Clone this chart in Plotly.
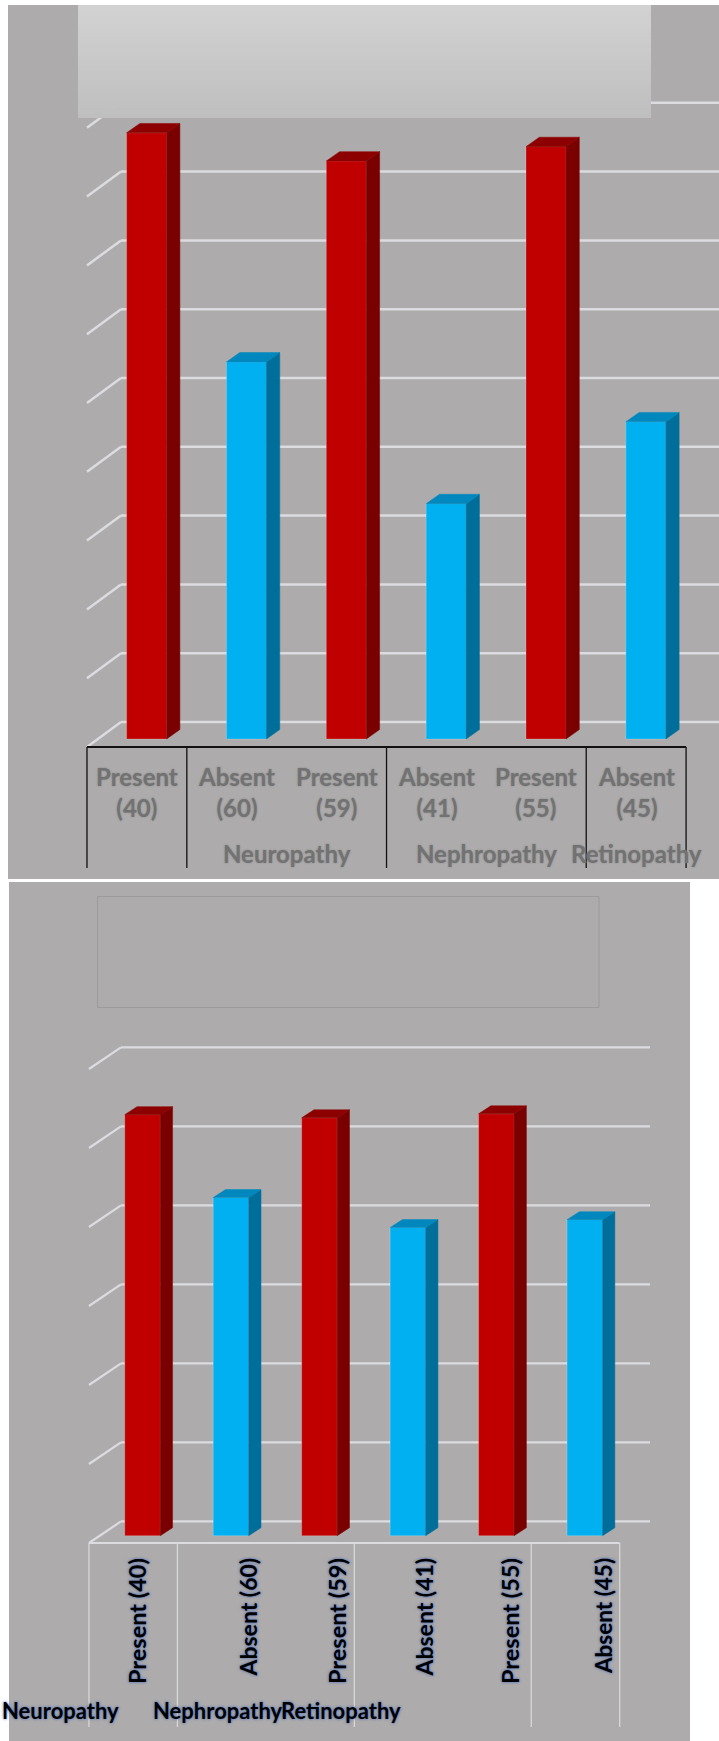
import plotly.graph_objects as go

# ---------------- data ----------------
categories = ["Present (40)", "Absent (60)", "Present (59)", "Absent (41)", "Present (55)", "Absent (45)"]
status = ["Present", "Absent", "Present", "Absent", "Present", "Absent"]
top_values = [88.1, 54.8, 84.0, 34.2, 86.1, 46.1]
bottom_values = [53.3, 42.8, 52.9, 39.0, 53.4, 40.0]
group_names = ["Neuropathy", "Nephropathy", "Retinopathy"]
group_spans = [(1, 3), (3, 5), (5, 6)]
dividers = [0, 1, 3, 5, 6]
top_grid = [0, 10, 20, 30, 40, 50, 60, 70, 80, 90]
bottom_grid = [0, 10, 20, 30, 40, 50, 60]

# ---------------- styling / layout constants ----------------
W, H = 719, 1741
FONT = "Lato, Carlito, Calibri, sans-serif"
BG = "#ADABAB"
GRID = "#DCDCE0"
FRONT = {"Present": "#C00000", "Absent": "#00B0F0"}
SIDE = {"Present": "#7A0000", "Absent": "#006E9A"}
TOPC = {"Present": "#8C0000", "Absent": "#0088BE"}

# pixel geometry of each chart (bar plane)
TOP = dict(cx0=146.6, cw=99.85, base=739.0, upx=6.88, front=(-9.7, 8.0), back=(24.3, -17.0),
           bw=40.0, depth=(13.3, -9.4), pix=(0, 880))
BOT = dict(cx0=142.5, cw=88.46, base=1535.7, upx=7.9, front=(-9.3, 7.3), back=(22.7, -14.3),
           bw=35.5, depth=(12.3, -8.0), pix=(880, 1741))

fig = go.Figure()
shapes = []
annotations = []


def px_x(g, px):
    return (px - g["cx0"]) / g["cw"]


def px_y(g, py):
    return (g["base"] - py) / g["upx"]


def odx(g, p):
    return p / g["cw"]


def ody(g, p):
    return -p / g["upx"]


def add_chart(g, values, xa, ya):
    w = g["bw"] / g["cw"]
    ddx, ddy = odx(g, g["depth"][0]), ody(g, g["depth"][1])
    cols = [FRONT[s] for s in status]
    fig.add_trace(go.Bar(x=list(range(len(values))), y=values, width=w,
                         marker=dict(color=cols, line=dict(width=0.8, color="rgba(255,255,255,0.25)")),
                         xaxis=xa, yaxis=ya, hoverinfo="skip", showlegend=False))
    for i, (v, s) in enumerate(zip(values, status)):
        xl, xr = i - w / 2, i + w / 2
        fig.add_trace(go.Scatter(x=[xr, xr, xr + ddx, xr + ddx, xr], y=[0, v, v + ddy, ddy, 0],
                                 fill="toself", fillcolor=SIDE[s], mode="lines",
                                 line=dict(width=0.5, color=SIDE[s]), xaxis=xa, yaxis=ya,
                                 hoverinfo="skip", showlegend=False))
        fig.add_trace(go.Scatter(x=[xl, xr, xr + ddx, xl + ddx, xl], y=[v, v, v + ddy, v + ddy, v],
                                 fill="toself", fillcolor=TOPC[s], mode="lines",
                                 line=dict(width=0.5, color=TOPC[s]), xaxis=xa, yaxis=ya,
                                 hoverinfo="skip", showlegend=False))


def grid_chart(g, gridvals, xa, ya, right_px, lw):
    fx, fy = odx(g, g["front"][0]), ody(g, g["front"][1])
    bx, by = odx(g, g["back"][0]), ody(g, g["back"][1])
    left = -0.5
    right_back = px_x(g, right_px)
    for V in gridvals:
        shapes.append(dict(type="line", xref=xa, yref=ya, layer="below",
                           x0=left + bx, y0=V + by, x1=right_back, y1=V + by,
                           line=dict(color=GRID, width=lw)))
        shapes.append(dict(type="line", xref=xa, yref=ya, layer="below",
                           x0=left + fx, y0=V + fy, x1=left + bx, y1=V + by,
                           line=dict(color=GRID, width=lw)))


def prect(x0, y0, x1, y1, **kw):
    d = dict(type="rect", xref="paper", yref="paper", x0=x0 / W, x1=x1 / W,
             y0=1 - y1 / H, y1=1 - y0 / H)
    d.update(kw)
    return d


# ---------- panels ----------
shapes.append(prect(8, 5, 719, 879, fillcolor=BG, line=dict(width=0), layer="below"))
shapes.append(prect(9, 882, 690, 1741, fillcolor=BG, line=dict(width=0), layer="below"))

n = len(categories)
TOPFONT = dict(family=FONT, size=24, color="#727272", weight="bold", shadow="0px 0px 2px #858585")
BOTFONT_SHADOW = "0px 0px 3px #3560c0"

# ---------- top chart ----------
add_chart(TOP, top_values, "x", "y")
grid_chart(TOP, top_grid, "x", "y", 719, 2.5)
g = TOP
fx, fy = odx(g, g["front"][0]), ody(g, g["front"][1])
shapes.append(dict(type="line", xref="x", yref="y", x0=-0.5 + fx, x1=n - 0.5 + fx, y0=fy, y1=fy,
                   line=dict(color="#111111", width=2)))
for d in dividers:
    shapes.append(dict(type="line", xref="x", yref="y", x0=d - 0.5 + fx, x1=d - 0.5 + fx,
                       y0=fy, y1=px_y(g, 868), line=dict(color="#111111", width=1.3)))
top_lab = [c.replace(" ", "<br>") for c in categories]
for i, t in enumerate(top_lab):
    annotations.append(dict(x=i + fx, y=px_y(g, 792), xref="x", yref="y", text=t, showarrow=False,
                            xanchor="center", yanchor="middle", font=TOPFONT))
for name, (a, b) in zip(group_names, group_spans):
    annotations.append(dict(x=(a + b) / 2 - 0.5 + fx, y=px_y(g, 853), xref="x", yref="y", text=name,
                            showarrow=False, xanchor="center", yanchor="middle", font=TOPFONT))
# title box with gradient
nb = 24
y0b, y1b = 5, 117.5
for k in range(nb):
    c = int(round(0xD2 - (0xD2 - 0xBF) * k / (nb - 1)))
    col = "#%02x%02x%02x" % (c, c, c)
    shapes.append(prect(78, y0b + (y1b - y0b) * k / nb, 651, y0b + (y1b - y0b) * (k + 1) / nb + 0.6,
                        fillcolor=col, line=dict(width=0), layer="above"))

# ---------- bottom chart ----------
add_chart(BOT, bottom_values, "x2", "y2")
grid_chart(BOT, bottom_grid, "x2", "y2", 650, 2.2)
g = BOT
fx, fy = odx(g, g["front"][0]), ody(g, g["front"][1])
shapes.append(dict(type="line", xref="x2", yref="y2", x0=-0.5 + fx, x1=n - 0.5 + fx, y0=fy, y1=fy,
                   line=dict(color=GRID, width=2)))
for d in dividers:
    shapes.append(dict(type="line", xref="x2", yref="y2", x0=d - 0.5 + fx, x1=d - 0.5 + fx,
                       y0=fy, y1=px_y(g, 1727), line=dict(color="#D8D8D8", width=1.3)))
bottom_label_px = [137, 247, 337, 423, 510, 603]
bottom_label_size = [23.5, 23, 23.5, 23, 23.5, 22.5]
for t, xp, sz in zip(categories, bottom_label_px, bottom_label_size):
    annotations.append(dict(x=px_x(g, xp), y=px_y(g, 1556), xref="x2", yref="y2", text=t,
                            showarrow=False, textangle=-90, xanchor="center", yanchor="top",
                            font=dict(family=FONT, size=sz, color="#000000", weight="bold",
                                      shadow=BOTFONT_SHADOW)))
group_label_px = [(0, "left"), (218, "center"), (341, "center")]
for name, (xp, anc) in zip(group_names, group_label_px):
    annotations.append(dict(x=px_x(g, xp), y=px_y(g, 1710), xref="x2", yref="y2", text=name,
                            showarrow=False, xanchor=anc, yanchor="middle",
                            font=dict(family=FONT, size=22, color="#000000", weight="bold",
                                      shadow=BOTFONT_SHADOW)))
shapes.append(prect(97.6, 896.5, 599, 1007.5, fillcolor="rgba(0,0,0,0)",
                    line=dict(color="#9C9A9A", width=1), layer="above"))


def ax_range(gg):
    return [px_x(gg, 0), px_x(gg, W)]


top_dom = [1 - TOP["pix"][1] / H, 1 - TOP["pix"][0] / H]
bot_dom = [1 - BOT["pix"][1] / H, 1 - BOT["pix"][0] / H]
axis_common = dict(showgrid=False, zeroline=False, showticklabels=False, showline=False, ticks="",
                   fixedrange=True)
fig.update_layout(
    width=W, height=H, margin=dict(l=0, r=0, t=0, b=0),
    paper_bgcolor="white", plot_bgcolor="rgba(0,0,0,0)",
    showlegend=False,
    xaxis=dict(domain=[0, 1], range=ax_range(TOP), anchor="y", **axis_common),
    yaxis=dict(domain=top_dom, range=[px_y(TOP, TOP["pix"][1]), px_y(TOP, TOP["pix"][0])], anchor="x",
               **axis_common),
    xaxis2=dict(domain=[0, 1], range=ax_range(BOT), anchor="y2", **axis_common),
    yaxis2=dict(domain=bot_dom, range=[px_y(BOT, BOT["pix"][1]), px_y(BOT, BOT["pix"][0])], anchor="x2",
                **axis_common),
    shapes=shapes, annotations=annotations,
)
fig.write_html("out.html")
